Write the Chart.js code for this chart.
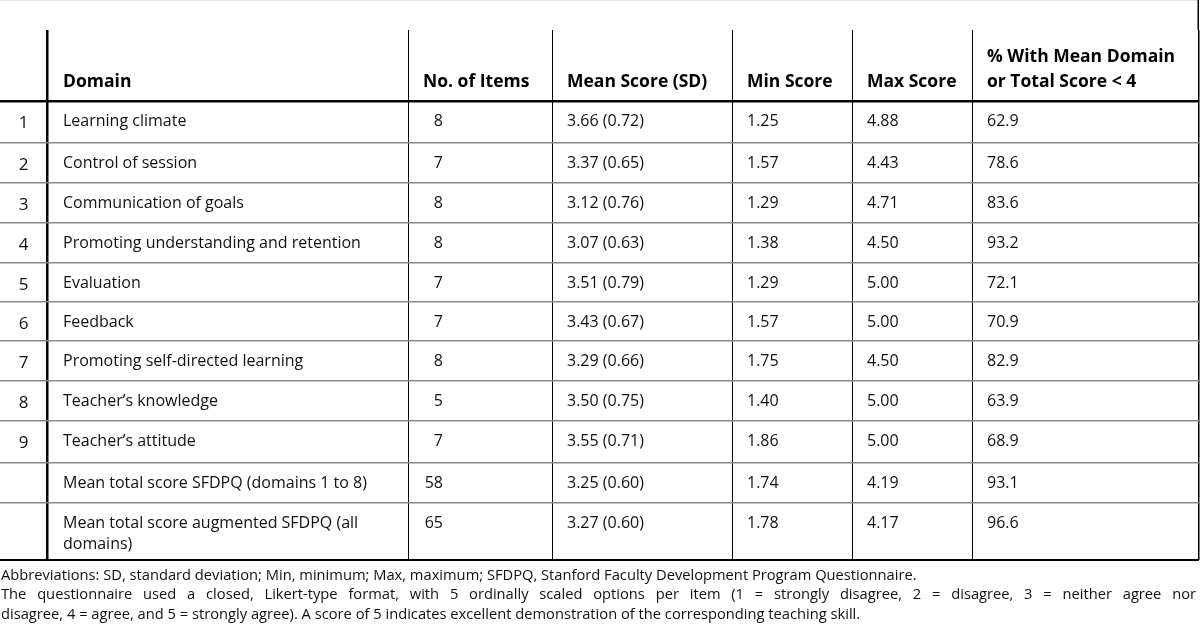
<!DOCTYPE html>
<html>
<head>
<meta charset="utf-8">
<title>SFDPQ domain scores</title>
<script src="https://cdn.jsdelivr.net/npm/chart.js@4.4.1/dist/chart.umd.min.js"></script>
<style>
  html, body { margin: 0; padding: 0; background: #fff; }
  #wrap { width: 1200px; height: 633px; position: relative; }
</style>
</head>
<body>
<div id="wrap"><canvas id="table" width="1200" height="633"></canvas></div>
<script>
const headers = ['', 'Domain', 'No. of Items', 'Mean Score (SD)', 'Min Score', 'Max Score',
  '% With Mean Domain\nor Total Score < 4'];
const rowNums = ['1', '2', '3', '4', '5', '6', '7', '8', '9', '', ''];
const domains = [
  'Learning climate',
  'Control of session',
  'Communication of goals',
  'Promoting understanding and retention',
  'Evaluation',
  'Feedback',
  'Promoting self-directed learning',
  'Teacher\u2019s knowledge',
  'Teacher\u2019s attitude',
  'Mean total score SFDPQ (domains 1 to 8)',
  'Mean total score augmented SFDPQ (all\ndomains)',
];
const nItems = [8, 7, 8, 8, 7, 7, 8, 5, 7, 58, 65];
const meanScores = [3.66, 3.37, 3.12, 3.07, 3.51, 3.43, 3.29, 3.50, 3.55, 3.25, 3.27];
const sds = [0.72, 0.65, 0.76, 0.63, 0.79, 0.67, 0.66, 0.75, 0.71, 0.60, 0.60];
const minScores = [1.25, 1.57, 1.29, 1.38, 1.29, 1.57, 1.75, 1.40, 1.86, 1.74, 1.78];
const maxScores = [4.88, 4.43, 4.71, 4.50, 5.00, 5.00, 4.50, 5.00, 5.00, 4.19, 4.17];
const pctBelow4 = [62.9, 78.6, 83.6, 93.2, 72.1, 70.9, 82.9, 63.9, 68.9, 93.1, 96.6];

const notes = [
  'Abbreviations: SD, standard deviation; Min, minimum; Max, maximum; SFDPQ, Stanford Faculty Development Program Questionnaire.',
  'The questionnaire used a closed, Likert-type format, with 5 ordinally scaled options per item (1 = strongly disagree, 2 = disagree, 3 = neither agree nor',
  'disagree, 4 = agree, and 5 = strongly agree). A score of 5 indicates excellent demonstration of the corresponding teaching skill.',
];

// ----- layout (scale units = px inside the table box) -----
const colEdges = [0, 47, 408, 552, 732, 852, 972, 1199];
const rowEdges = [0, 71, 113, 153, 193, 233, 272, 311, 351, 391, 433, 473, 530];
const colAnchor = [23.5, 63, 443, 567, 747, 867, 987];
const colAlign = ['center', 'left', 'right', 'left', 'left', 'left', 'left'];
const FONT = '"Open Sans", "DejaVu Sans", sans-serif';

// cell texts, one column each
const columns = [
  rowNums,
  domains,
  nItems.map(String),
  meanScores.map((m, i) => m.toFixed(2) + ' (' + sds[i].toFixed(2) + ')'),
  minScores.map(v => v.toFixed(2)),
  maxScores.map(v => v.toFixed(2)),
  pctBelow4.map(v => v.toFixed(1)),
];

// one dataset per column, one point per row (anchor = row top)
const datasets = columns.map((texts, c) => ({
  label: headers[c] || '#',
  data: texts.map((t, r) => ({ x: colAnchor[c], y: rowEdges[r + 1], text: t })),
  pointRadius: 0,
  pointHoverRadius: 0,
}));

// draws header + cell text at the points' positions
const cellText = {
  id: 'cellText',
  afterDatasetsDraw(chart) {
    const ctx = chart.ctx;
    const xs = chart.scales.x;
    const ys = chart.scales.y;
    ctx.save();
    ctx.textBaseline = 'alphabetic';

    // header row
    ctx.fillStyle = '#000';
    ctx.font = 'bold 17.5px ' + FONT;
    headers.forEach((h, c) => {
      if (!h) return;
      const lines = h.split('\n');
      ctx.textAlign = c === 2 ? 'left' : colAlign[c];
      const x = xs.getPixelForValue(c === 2 ? 423 : colAnchor[c]);
      const base = ys.getPixelForValue(rowEdges[1]) - 14;
      lines.forEach((ln, k) => {
        ctx.fillText(ln, x, base - (lines.length - 1 - k) * 25);
      });
    });

    // body cells
    ctx.fillStyle = '#111';
    chart.data.datasets.forEach((ds, c) => {
      const meta = chart.getDatasetMeta(c);
      ctx.textAlign = colAlign[c];
      ctx.font = (c === 0 ? '17px ' : '16px ') + FONT;
      meta.data.forEach((pt, r) => {
        const t = ds.data[r].text;
        if (!t) return;
        const lines = t.split('\n');
        const off = c === 0 ? 27 : 24.5;
        lines.forEach((ln, k) => ctx.fillText(ln, pt.x, pt.y + off + k * 21));
      });
    });

    // frame bits above the table and the footnote
    const area = chart.chartArea;
    ctx.strokeStyle = '#e2e2e2';
    ctx.lineWidth = 1;
    ctx.beginPath(); ctx.moveTo(0, 0.5); ctx.lineTo(area.right, 0.5); ctx.stroke();
    ctx.strokeStyle = '#000';
    ctx.lineWidth = 1.5;
    ctx.beginPath(); ctx.moveTo(area.right - 0.75, 0); ctx.lineTo(area.right - 0.75, area.top); ctx.stroke();

    ctx.font = '14.7px ' + FONT;
    ctx.textAlign = 'left';
    ctx.fillStyle = '#111';
    const footTop = area.bottom + 19.5;
    notes.forEach((ln, k) => {
      const y = footTop + k * 19.7;
      if (k === 1) {
        // justified line
        const words = ln.split(' ');
        const wsum = words.reduce((a, w) => a + ctx.measureText(w).width, 0);
        const gap = (1195 - wsum) / (words.length - 1);
        let x = 1;
        words.forEach(w => { ctx.fillText(w, x, y); x += ctx.measureText(w).width + gap; });
      } else {
        ctx.fillText(ln, 1, y);
      }
    });
    ctx.restore();
  },
};

const chart = new Chart(document.getElementById('table'), {
  type: 'scatter',
  data: { datasets },
  options: {
    responsive: false,
    animation: false,
    devicePixelRatio: 1,
    events: [],
    layout: { padding: { top: 30, bottom: 73, left: 0, right: 1 } },
    plugins: { legend: { display: false }, tooltip: { enabled: false } },
    scales: {
      x: {
        type: 'linear',
        min: colEdges[0],
        max: colEdges[colEdges.length - 1],
        afterBuildTicks: s => { s.ticks = colEdges.map(v => ({ value: v })); },
        ticks: { display: false },
        border: { display: false },
        grid: {
          drawTicks: false,
          color: c => (c.index === 0 ? 'rgba(0,0,0,0)' : '#000'),
          lineWidth: c => (c.index === 1 ? 2.5 : c.index === colEdges.length - 1 ? 1.5 : 1),
        },
      },
      y: {
        type: 'linear',
        reverse: true,
        min: rowEdges[0],
        max: rowEdges[rowEdges.length - 1],
        afterBuildTicks: s => { s.ticks = rowEdges.map(v => ({ value: v })); },
        ticks: { display: false },
        border: { display: false },
        grid: {
          drawTicks: false,
          color: c => {
            if (c.index === 0) return 'rgba(0,0,0,0)';
            if (c.index === 1 || c.index === rowEdges.length - 1) return '#000';
            return '#8a8a8a';
          },
          lineWidth: c => (c.index === 1 ? 2.5 : c.index === rowEdges.length - 1 ? 2 : 1.5),
        },
      },
    },
  },
  plugins: [cellText],
});
</script>
</body>
</html>
